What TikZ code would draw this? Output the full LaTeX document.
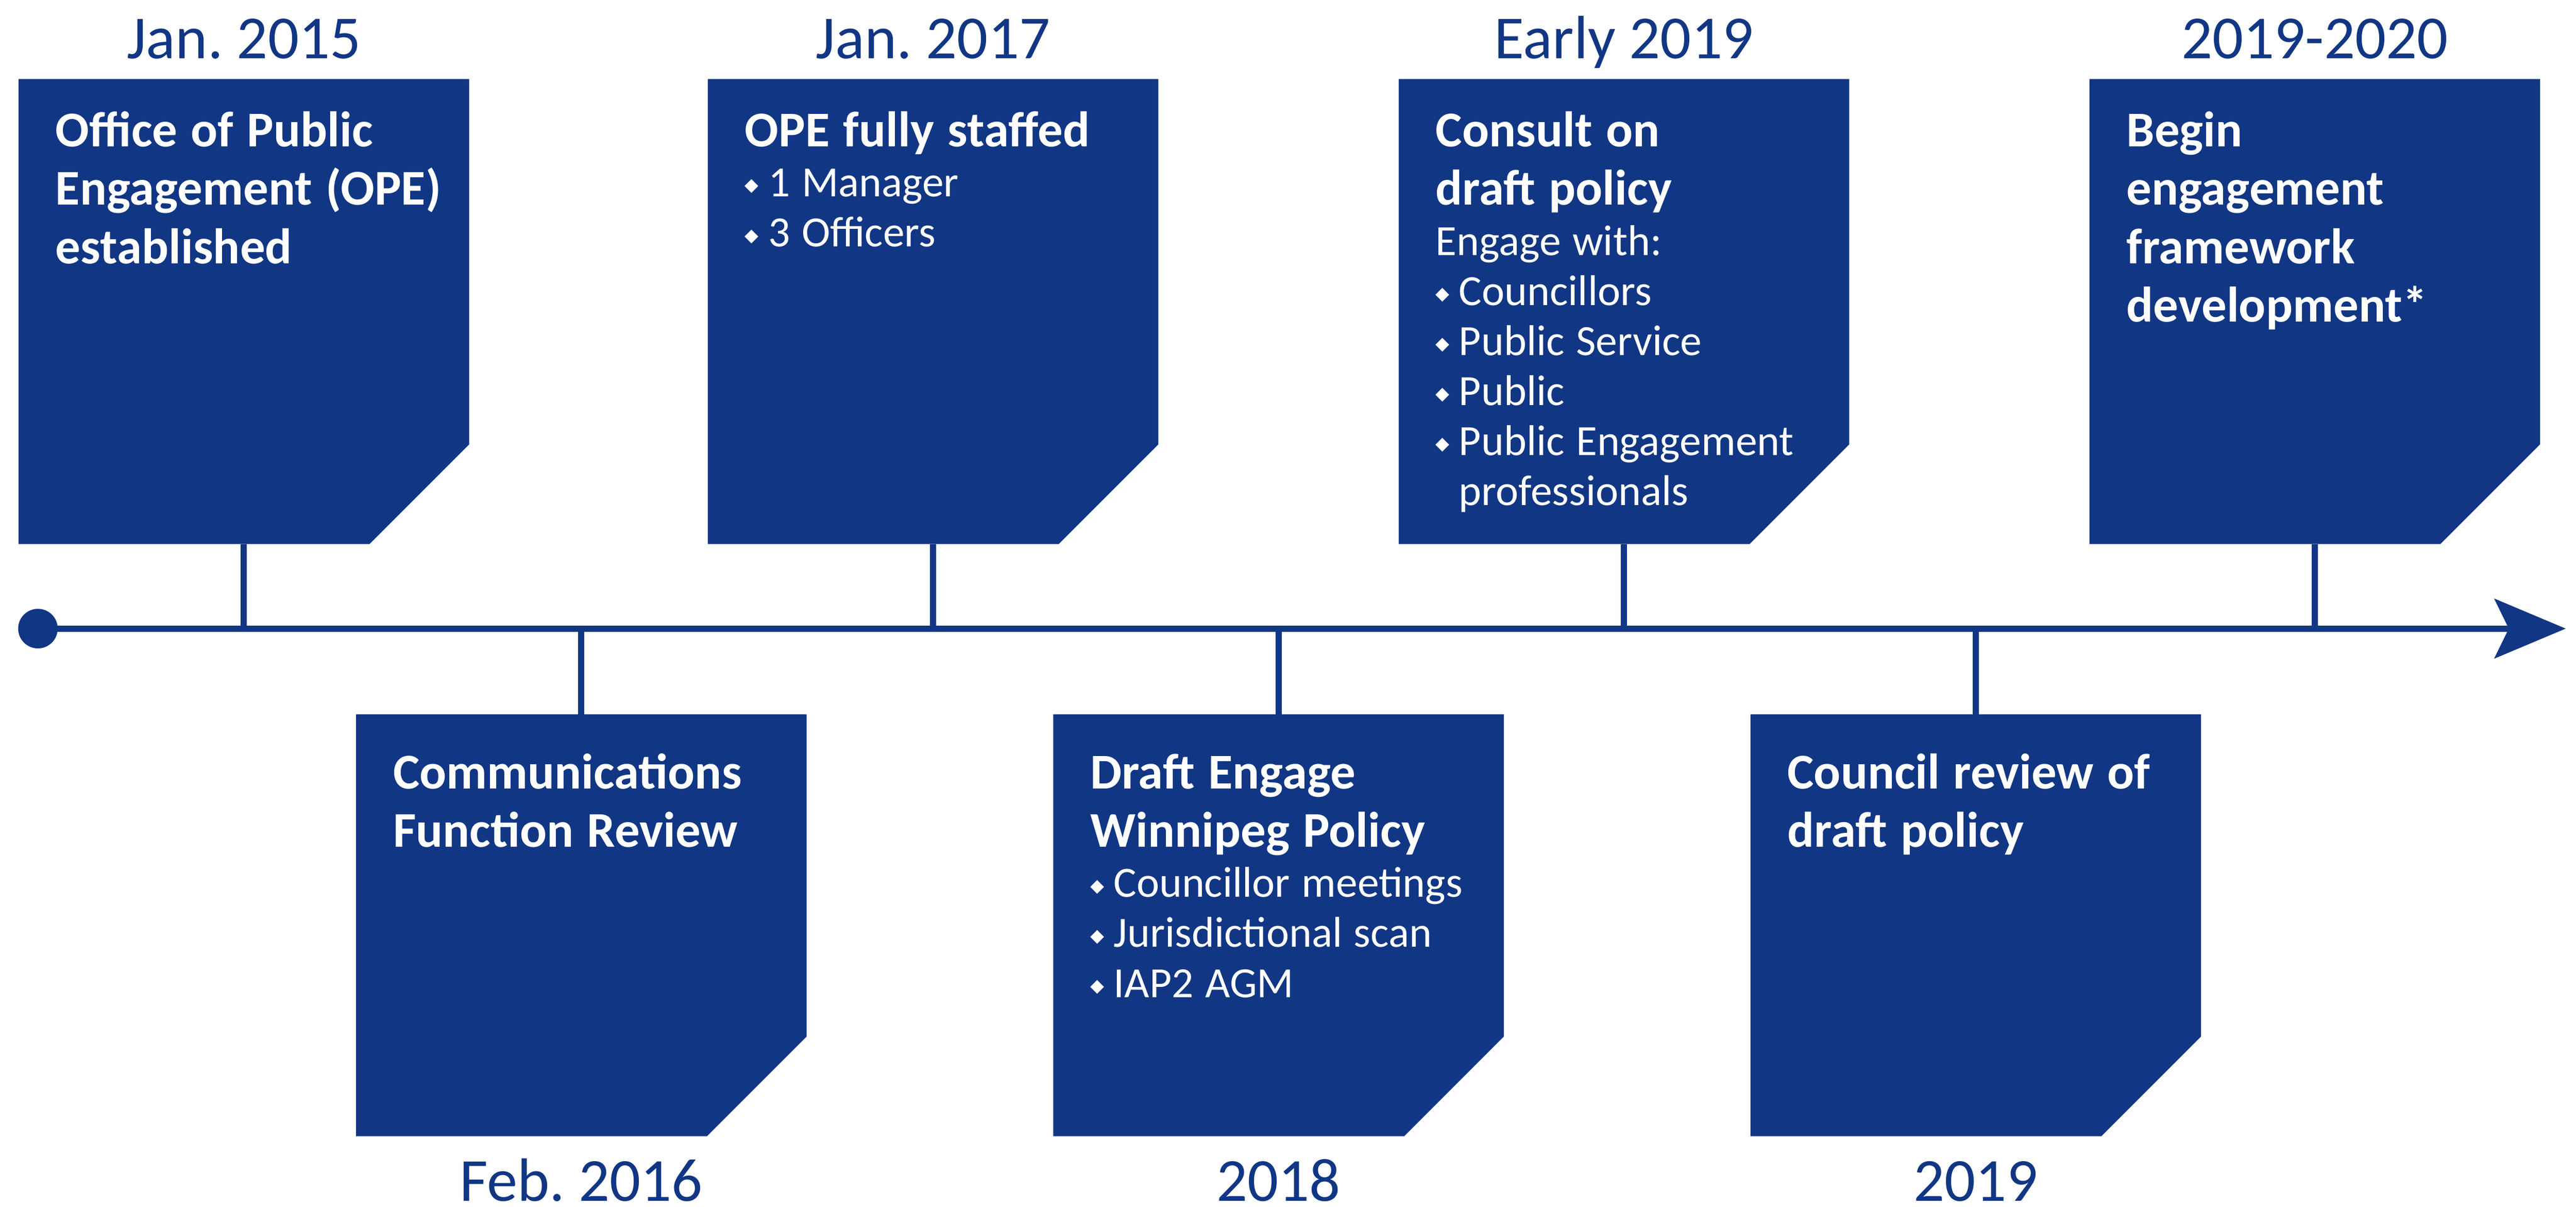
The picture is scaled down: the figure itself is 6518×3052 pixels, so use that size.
\documentclass[tikz,border=0pt]{standalone}
\usepackage{fontspec}
\setmainfont{Carlito}
\newfontfamily\symfont{DejaVu Sans}
\usetikzlibrary{positioning}
\usetikzlibrary{arrows.meta}
\definecolor{wpgblue}{RGB}{17,54,132}
\newcommand{\ttl}{\fontsize{36pt}{42pt}\selectfont\bfseries\spaceskip=0.27em\relax}
\newcommand{\bdy}{\fontsize{31pt}{36pt}\selectfont\spaceskip=0.27em\relax}
\newcommand{\bul}{\makebox[0.59cm][l]{\raisebox{4pt}{\symfont\fontsize{13pt}{13pt}\selectfont ◆}}}
\newcommand{\bulgap}{\hspace*{0.59cm}}
\frenchspacing

\begin{document}
\begin{tikzpicture}[x=0.01cm,y=-0.01cm,
  card/.style={rectangle,minimum width=11.38cm,inner sep=0pt},
  upcard/.style={card,minimum height=11.74cm,anchor=north},
  downcard/.style={card,minimum height=10.65cm,anchor=north},
  txt/.style={text=white,text width=10.3cm,align=left,inner sep=0pt,anchor=base west},
  datelabel/.style={text=wpgblue,font=\fontsize{44pt}{44pt}\selectfont,inner sep=0pt,anchor=base},
  stalk/.style={draw=wpgblue,line width=4.5pt},
  timeline/.style={draw=wpgblue,line width=4.5pt,-{Stealth[length=1.8cm,width=1.5cm,inset=0.36cm]}}
]
  \useasboundingbox (0,0) rectangle (6518,3052);

  % the time axis
  \node [circle,fill=wpgblue,minimum size=1cm,inner sep=0pt] (start) at (96,1590) {};
  \coordinate (end) at (6492,1590);
  \draw [timeline] (start.center) -- (end);

  % cards above and below the axis
  \node [upcard]   (ope)     at (617,200)   {};
  \node [downcard] (comm)    at (1471,1807) {};
  \node [upcard]   (staff)   at (2361,200)  {};
  \node [downcard] (draft)   at (3235,1807) {};
  \node [upcard]   (consult) at (4109,200)  {};
  \node [downcard] (review)  at (4999,1807) {};
  \node [upcard]   (frame)   at (5857,200)  {};

  % cut off the lower right corner
  \foreach \c in {ope,comm,staff,draft,consult,review,frame}
    \fill [wpgblue] (\c.north west) -- (\c.north east) -- ([yshift=2.52cm]\c.south east)
      -- ([xshift=-2.52cm]\c.south east) -- (\c.south west) -- cycle;

  % Jan. 2015
  \node [txt] (opet) at ([shift={(93,171)}]ope.north west) {{\ttl Office of Public\\Engagement (OPE)\\established\par}};
  \node [datelabel] (oped) at ([yshift=0.52cm]ope.north) {Jan. 2015};
  \draw [stalk] (ope.south) -- (ope.south |- start);

  % Feb. 2016
  \node [txt] (commt) at ([shift={(93,188)}]comm.north west) {{\ttl Communications\\Function Review\par}};
  \node [datelabel] (commd) at ([yshift=-1.64cm]comm.south) {Feb. 2016};
  \draw [stalk] (comm.north) -- (comm.north |- start);

  % Jan. 2017
  \node [txt] (stafft) at ([shift={(93,171)}]staff.north west) {{\ttl OPE fully staffed\par}{\bdy\bul 1 Manager\\\bul 3 Officers\par}};
  \node [datelabel] (staffd) at ([yshift=0.52cm]staff.north) {Jan. 2017};
  \draw [stalk] (staff.south) -- (staff.south |- start);

  % 2018
  \node [txt] (draftt) at ([shift={(93,188)}]draft.north west) {{\ttl Draft Engage\\Winnipeg Policy\par}{\bdy\bul Councillor meetings\\\bul Jurisdictional scan\\\bul IAP2 AGM\par}};
  \node [datelabel] (draftd) at ([yshift=-1.64cm]draft.south) {2018};
  \draw [stalk] (draft.north) -- (draft.north |- start);

  % Early 2019
  \node [txt] (consultt) at ([shift={(93,171)}]consult.north west) {{\ttl Consult on\\draft policy\par}{\bdy Engage with:\\\bul Councillors\\\bul Public Service\\\bul Public\\\bul Public Engagement\\\bulgap professionals\par}};
  \node [datelabel] (consultd) at ([yshift=0.52cm]consult.north) {Early 2019};
  \draw [stalk] (consult.south) -- (consult.south |- start);

  % 2019
  \node [txt] (reviewt) at ([shift={(93,188)}]review.north west) {{\ttl Council review of\\draft policy\par}};
  \node [datelabel] (reviewd) at ([yshift=-1.64cm]review.south) {2019};
  \draw [stalk] (review.north) -- (review.north |- start);

  % 2019-2020
  \node [txt] (framet) at ([shift={(93,171)}]frame.north west) {{\ttl Begin\\engagement\\framework\\development*\par}};
  \node [datelabel] (framed) at ([yshift=0.52cm]frame.north) {2019-2020};
  \draw [stalk] (frame.south) -- (frame.south |- start);
\end{tikzpicture}
\end{document}
